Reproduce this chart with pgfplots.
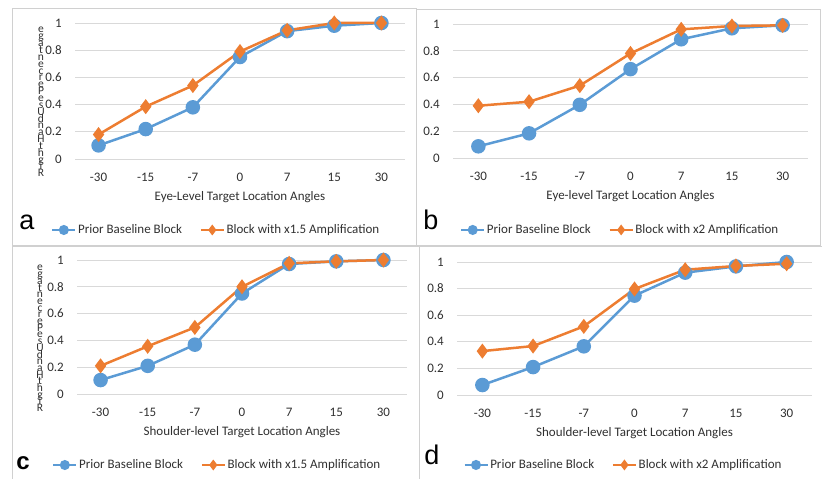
\documentclass[border=0pt]{standalone}
\usepackage{pgfplots}
\pgfplotsset{compat=1.18}
\usepackage{fontspec}
\setmainfont{Carlito}
\newfontfamily\letterfont{Liberation Sans}

\definecolor{xlblue}{HTML}{5B9BD5}
\definecolor{xlorange}{HTML}{ED7D31}
\definecolor{gridgray}{HTML}{D9D9D9}
\definecolor{framegray}{HTML}{D0D0D0}
\definecolor{txt}{HTML}{303030}

\pgfplotsset{
  legend image code/.code={\draw[#1,mark options={scale=0.62},mark repeat=2,mark phase=2]
    plot coordinates {(0pt,0pt)(11.5pt,0pt)(23pt,0pt)};},
  panel/.style={scale only axis, anchor=south west,
    xmin=-0.5, xmax=6.5, ymin=0, ymax=1,
    xtick={0,...,6}, xticklabels={-30,-15,-7,0,7,15,30},
    ytick={0,0.2,0.4,0.6,0.8,1},
    axis line style={draw=none}, major tick length=0pt,
    ymajorgrids, grid style={gridgray,line width=0.9pt},
    clip=false,
    /pgf/number format/assume math mode=true,
    ticklabel style={font=\fontsize{13}{15}\selectfont,text=txt,inner sep=0pt},
    xticklabel style={anchor=center,yshift=-18pt},
    yticklabel style={anchor=east,xshift=-13pt},
    xlabel style={at={(axis description cs:0.5,0)},anchor=center,yshift=-38pt,
      font=\fontsize{13}{15}\selectfont,text=txt},
    legend columns=2,
    legend style={draw=none,fill=none,anchor=center,font=\fontsize{13}{15}\selectfont,
      text=txt,/tikz/every even column/.append style={column sep=16pt},
      nodes={inner sep=1.5pt}},
  },
  base/.style={xlblue,line width=2.5pt,mark=*,mark size=6pt},
  amp/.style={xlorange,line width=2.5pt,mark=diamond*,mark size=5.5pt},
}

\begin{document}
\begin{tikzpicture}[x=1pt,y=1pt]
\useasboundingbox (0,0) rectangle (822,479);

% panel frames
\draw[framegray,line width=1pt] (12,470) rectangle (416,233);
\draw[framegray,line width=1pt] (416,469) -- (820,469) -- (820,233) -- (416,233);
\draw[framegray,line width=1pt] (12,-5) -- (12,232) -- (419,232) -- (419,-5);
\draw[framegray,line width=1pt] (419,232) -- (822,232);

% squeezed y-axis titles of panels a and c
\foreach \ch [count=\i] in {e,g,a,t,n,e,c,r,e,P,e,s,U,d,n,a,H,t,h,g,i,R} {
  \node[anchor=base,inner sep=0pt,font=\fontsize{11.5}{13}\selectfont,text=txt]
    at (41,{479-33-(\i-1)*6.85}) {\ch};
  \node[anchor=base,inner sep=0pt,font=\fontsize{11.5}{13}\selectfont,text=txt]
    at (40,{479-271-(\i-1)*6.7}) {\ch};
}

% a
\begin{axis}[panel, at={(75pt,320pt)}, width=330pt, height=136pt,
  xlabel={Eye-Level Target Location Angles},
  legend style={at={(0.427,-0.522)}}]
\addplot[base] coordinates {(0,0.10)(1,0.22)(2,0.38)(3,0.75)(4,0.94)(5,0.98)(6,1.00)};
\addplot[amp] coordinates {(0,0.18)(1,0.385)(2,0.54)(3,0.79)(4,0.946)(5,1.00)(6,1.00)};
\legend{Prior Baseline Block, Block with x1.5 Amplification}
\end{axis}

% b
\begin{axis}[panel, at={(453pt,321pt)}, width=355pt, height=134pt,
  xlabel={Eye-level Target Location Angles},
  legend style={at={(0.470,-0.537)}}]
\addplot[base] coordinates {(0,0.087)(1,0.184)(2,0.397)(3,0.663)(4,0.886)(5,0.968)(6,0.99)};
\addplot[amp] coordinates {(0,0.39)(1,0.42)(2,0.54)(3,0.78)(4,0.96)(5,0.985)(6,0.99)};
\legend{Prior Baseline Block, Block with x2 Amplification}
\end{axis}

% c
\begin{axis}[panel, at={(77pt,85pt)}, width=330pt, height=134pt,
  xlabel={Shoulder-level Target Location Angles},
  legend style={at={(0.424,-0.53)}}]
\addplot[base] coordinates {(0,0.104)(1,0.21)(2,0.368)(3,0.75)(4,0.97)(5,0.99)(6,1.00)};
\addplot[amp] coordinates {(0,0.21)(1,0.356)(2,0.497)(3,0.80)(4,0.975)(5,0.99)(6,1.00)};
\legend{Prior Baseline Block, Block with x1.5 Amplification}
\end{axis}

% d
\begin{axis}[panel, at={(457pt,84pt)}, width=355pt, height=133pt,
  xlabel={Shoulder-level Target Location Angles},
  legend style={at={(0.468,-0.526)}}]
\addplot[base] coordinates {(0,0.075)(1,0.21)(2,0.366)(3,0.747)(4,0.92)(5,0.967)(6,1.00)};
\addplot[amp] coordinates {(0,0.33)(1,0.368)(2,0.516)(3,0.797)(4,0.942)(5,0.97)(6,0.987)};
\legend{Prior Baseline Block, Block with x2 Amplification}
\end{axis}

% panel letters
\node[font=\letterfont\fontsize{27}{30}\selectfont] at (27,257) {a};
\node[font=\letterfont\fontsize{27}{30}\selectfont] at (431,259) {b};
\node[font=\letterfont\bfseries\fontsize{24}{28}\selectfont] at (23,16) {c};
\node[font=\letterfont\fontsize{27}{30}\selectfont] at (432,24) {d};
\end{tikzpicture}
\end{document}
